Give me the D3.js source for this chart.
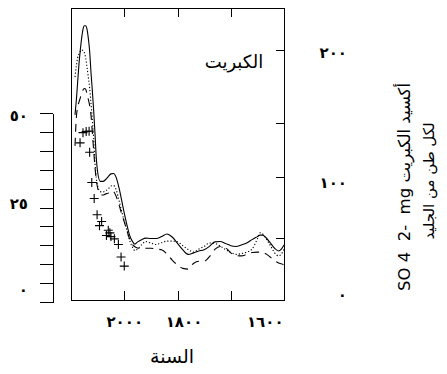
<!DOCTYPE html>
<html><head><meta charset="utf-8">
<script src="https://cdn.jsdelivr.net/npm/d3@7"></script>
<style>body{margin:0;background:#fff}svg{display:block}</style>
</head><body><svg id="c" width="447" height="374"></svg>
<script>
// ---------- data ----------
const years = [2185,2180,2175,2170,2165,2160,2155,2150,2145,2140,2135,2130,2125,2120,2115,2110,2105,2100,
  2090,2080,2070,2060,2050,2040,2030,2020,2010,2000,1990,1980,1970,1960,1950,1935,1920,
  1900,1880,1860,1840,1820,1800,1780,1760,1740,1720,1700,1680,1660,1640,1620,1600,1580,1560,1540,1520,1500,
  1490,1480,1465,1450,1435,1420,1410,1400];
const solidSeries = [49.5,53.4,58.2,63.0,66.7,69.8,72.1,73.1,73.1,72.2,69.8,66.4,60.8,56.1,50.8,44.7,38.1,34.4,
  31.9,31.9,32.4,33.2,33.9,34.0,32.9,30.3,27.0,23.5,20.4,17.7,16.1,15.3,15.9,16.5,16.9,
  16.8,16.8,17.3,18.0,17.2,15.5,13.8,12.6,13.0,13.5,13.8,14.7,15.9,16.0,15.5,14.9,14.7,15.1,15.6,16.5,17.3,
  17.7,17.7,16.8,15.5,14.2,13.5,14.0,15.1];
const dottedSeries = [59.5,62.4,64.6,65.6,66.3,66.7,66.5,66.0,64.6,62.2,59.5,56.6,52.6,48.4,43.4,37.0,32.8,30.7,
  29.2,29.1,29.4,29.9,30.7,30.8,29.6,27.0,24.1,21.4,19.0,16.4,14.6,13.6,14.0,15.1,16.0,
  15.6,15.2,15.7,16.1,16.1,15.9,14.9,13.9,13.2,14.0,14.7,15.6,15.5,14.8,13.9,13.1,12.6,12.8,13.2,14.0,16.7,
  18.3,18.0,16.5,14.8,13.0,12.2,12.7,14.0];
const dashedSeries = [41.3,48.7,51.6,52.9,54.0,55.2,56.1,56.5,56.3,55.0,53.6,52.0,49.5,45.0,40.2,35.7,32.3,30.2,
  28.6,28.3,28.6,28.8,29.4,29.2,27.9,25.8,23.4,21.2,18.9,16.7,15.3,14.6,14.3,14.2,14.2,
  14.2,14.0,13.8,12.7,11.1,9.8,8.9,8.7,10.2,10.8,10.8,12.0,13.9,14.7,14.4,13.0,12.3,12.2,12.6,13.1,13.2,
  13.2,13.1,12.6,11.8,11.0,10.3,10.1,9.8];
const crossYears = [2166,2155,2143,2132,2130,2122,2113,2102,2085,2093,2060,2054,2067,2050,2037,2022,2012,2000];
const crossValues = [42.1,44.8,45.1,45.2,39.6,31.6,27.4,23.1,21.3,20.2,19.0,18.3,17.6,17.3,16.7,15.2,11.9,9.5];
const xTicks = [2000, 1800, 1600];
const leftTicks = [0,5,10,15,20,25,30,35,40,45,50];
const leftLabelTicks = [0, 25, 50];
const rightLabelTicks = [0, 100, 200];
const rightInnerTicks = [51, 105, 146, 202];
const titleText = "الكبريت";
const xLabel = "السنة";
const yRightLabel1 = "SO 4  2-  mg أكسيد الكبريت";
const yRightLabel2 = "لكل طن من الجليد";

// ---------- helpers / layout ----------
const toArabic = n => String(n).replace(/\d/g, d => "٠١٢٣٤٥٦٧٨٩"[+d]);
const FONT = "'DejaVu Sans', sans-serif";
const svg = d3.select("#c");
const box = {l: 71, r: 284, t: 8, b: 300};

const x = d3.scaleLinear().domain([2200, 1400]).range([box.l, box.r]);
const yL = d3.scaleLinear().domain([0, 50]).range([302, 113]);
const yR = d3.scaleLinear().domain([0, 100, 200]).range([295, 183, 53]);

// plot frame
svg.append("rect").attr("x", box.l).attr("y", box.t)
  .attr("width", box.r - box.l).attr("height", box.b - box.t)
  .attr("fill", "none").attr("stroke", "#000").attr("stroke-width", 1)
  .attr("shape-rendering", "crispEdges");

// bottom ticks + labels
const bottomNudge = {2000: 0, 1800: 6, 1600: 34};
const gB = svg.append("g").attr("transform", `translate(0,${box.b})`)
  .call(d3.axisBottom(x).tickValues(xTicks).tickSizeInner(-9).tickSizeOuter(0).tickPadding(16).tickFormat(toArabic));
gB.select(".domain").remove();
gB.selectAll("text").attr("dx", d => bottomNudge[d]).style("letter-spacing", "3.5px");

// top ticks
const gT = svg.append("g").attr("transform", `translate(0,${box.t})`)
  .call(d3.axisTop(x).tickValues(xTicks).tickSizeInner(-9).tickSizeOuter(0).tickFormat(""));
gT.select(".domain").remove();

// right inner ticks
const gRi = svg.append("g").attr("transform", `translate(${box.r},0)`)
  .call(d3.axisRight(yR).tickValues(rightInnerTicks).tickSizeInner(-8).tickSizeOuter(0).tickFormat(""));
gRi.select(".domain").remove();

// left axis
const leftNudge = {0: -12, 25: -4, 50: 3};
const gL = svg.append("g").attr("transform", "translate(53,0)")
  .call(d3.axisLeft(yL).tickValues(leftTicks).tickSize(13).tickSizeOuter(0).tickPadding(12)
    .tickFormat(d => leftLabelTicks.includes(d) ? toArabic(d) : ""));
gL.selectAll("text").attr("transform", d => `translate(0,${leftNudge[d] || 0})`);

// right labels
const gR = svg.append("g").attr("transform", "translate(347,0)")
  .call(d3.axisLeft(yR).tickValues(rightLabelTicks).tickSize(0).tickPadding(0).tickFormat(toArabic));
gR.select(".domain").remove();

svg.selectAll(".tick text").attr("font-family", FONT).attr("font-size", 15)
  .attr("font-weight", "bold").attr("fill", "#000");
svg.selectAll(".tick line, .domain").attr("stroke", "#000").attr("shape-rendering", "crispEdges");

// series
const mk = vals => years.map((yr, i) => ({yr, v: vals[i]}));
const line = d3.line().x(d => x(d.yr)).y(d => yL(d.v)).curve(d3.curveMonotoneX);
const plot = svg.append("g");
plot.append("path").datum(mk(solidSeries)).attr("d", line)
  .attr("fill", "none").attr("stroke", "#000").attr("stroke-width", 1.1);
plot.append("path").datum(mk(dottedSeries)).attr("d", line)
  .attr("fill", "none").attr("stroke", "#000").attr("stroke-width", 1.1).attr("stroke-dasharray", "1.2,2");
plot.append("path").datum(mk(dashedSeries)).attr("d", line)
  .attr("fill", "none").attr("stroke", "#000").attr("stroke-width", 1.1).attr("stroke-dasharray", "8,6");

// crosses
plot.selectAll("path.cross").data(crossYears.map((yr, i) => ({yr, v: crossValues[i]})))
  .join("path").attr("class", "cross")
  .attr("transform", d => `translate(${x(d.yr)},${yL(d.v)})`)
  .attr("d", "M-4.5,0H4.5M0,-4.5V4.5")
  .attr("stroke", "#000").attr("stroke-width", 1.1).attr("fill", "none");

// texts
svg.append("text").attr("x", 234).attr("y", 62).attr("dy", "0.35em")
  .attr("text-anchor", "middle").attr("font-family", FONT).attr("font-size", 18).text(titleText);
svg.append("text").attr("x", 172).attr("y", 356).attr("dy", "0.35em")
  .attr("text-anchor", "middle").attr("font-family", FONT).attr("font-size", 19).text(xLabel);
svg.append("text").attr("transform", "translate(404,187) rotate(-90)").attr("dy", "0.35em")
  .attr("text-anchor", "middle").attr("font-family", FONT).attr("font-size", 16.5)
  .style("white-space", "pre").text(yRightLabel1);
svg.append("text").attr("transform", "translate(429,181) rotate(-90)").attr("dy", "0.35em")
  .attr("text-anchor", "middle").attr("font-family", FONT).attr("font-size", 15).text(yRightLabel2);
</script></body></html>
